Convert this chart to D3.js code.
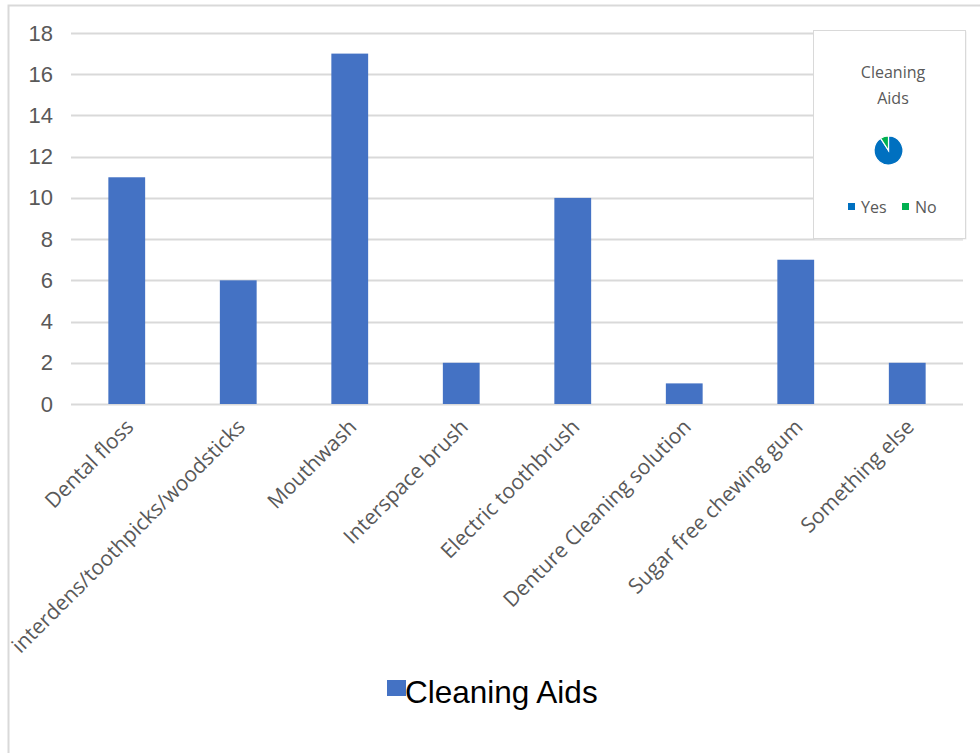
<!DOCTYPE html>
<html><head><meta charset="utf-8">
<script src="https://cdn.jsdelivr.net/npm/d3@7"></script>
<style>body{margin:0;background:#fff;}svg{display:block;}</style>
</head><body>
<script>
const categories = ["Dental floss","interdens/toothpicks/woodsticks","Mouthwash","Interspace brush","Electric toothbrush","Denture Cleaning solution","Sugar free chewing gum","Something else"];
const values = [11, 6, 17, 2, 10, 1, 7, 2];
const yTicks = [0, 2, 4, 6, 8, 10, 12, 14, 16, 18];
const seriesName = "Cleaning Aids";
const pieLabels = ["Yes", "No"];
const pieValues = [10, 1];

(function () {
const W = 980, H = 753;
const svg = d3.select("body").append("svg").attr("width", W).attr("height", H);

svg.append("rect").attr("x", 8.5).attr("y", 5.5).attr("width", 1000).attr("height", 800)
  .attr("fill", "#fff").attr("stroke", "#d9d9d9").attr("stroke-width", 2);

const pLeft = 71, pRight = 963, pTop = 33, pBottom = 404;
const x = d3.scaleBand().domain(categories).range([pLeft, pRight]).padding(0);
const y = d3.scaleLinear().domain([0, 18]).range([pBottom, pTop]);

const grid = svg.append("g");
grid.selectAll("line").data(yTicks).join("line")
  .attr("x1", pLeft).attr("x2", pRight)
  .attr("y1", d => Math.round(y(d)) + 0.5).attr("y2", d => Math.round(y(d)) + 0.5)
  .attr("stroke", "#d9d9d9").attr("stroke-width", 2);

const yAxis = d3.axisLeft(y).tickValues(yTicks).tickSize(0).tickPadding(0);
const ya = svg.append("g").attr("transform", `translate(53,0)`).call(yAxis);
ya.select(".domain").remove();
ya.selectAll("text").attr("font-family", "Liberation Sans, Arial, sans-serif")
  .attr("font-size", 22).attr("fill", "#595959");

const bw = x.bandwidth() * 0.33;
svg.append("g").selectAll("rect").data(values).join("rect")
  .attr("x", (d, i) => x(categories[i]) + x.bandwidth() / 2 - bw / 2)
  .attr("width", bw)
  .attr("y", d => y(d))
  .attr("height", d => y(0) - y(d))
  .attr("fill", "#4472C4");

svg.append("g").selectAll("text").data(categories).join("text")
  .attr("transform", d => `translate(${x(d) + x.bandwidth() / 2 + 3},${423}) rotate(-45)`)
  .attr("text-anchor", "end")
  .attr("dy", "0.35em")
  .attr("font-family", "Open Sans, sans-serif")
  .attr("font-size", 21)
  .attr("fill", "#595959")
  .text(d => d);

// legend
const lg = svg.append("g");
lg.append("rect").attr("x", 387).attr("y", 680).attr("width", 19).attr("height", 16).attr("fill", "#4472C4");
lg.append("text").attr("x", 405).attr("y", 703)
  .attr("font-family", "Liberation Sans, Arial, sans-serif").attr("font-size", 31.5).attr("fill", "#000")
  .text(seriesName);

// inset pie chart
const ix = 813, iy = 30, iw = 152, ih = 208;
svg.append("rect").attr("x", ix + 1.5).attr("y", iy + 1.5).attr("width", iw).attr("height", ih).attr("fill", "#ececec");
svg.append("rect").attr("x", ix + 0.5).attr("y", iy + 0.5).attr("width", iw).attr("height", ih)
  .attr("fill", "#fff").attr("stroke", "#d9d9d9").attr("stroke-width", 1);
const tt = svg.append("text").attr("text-anchor", "middle").attr("font-family", "Open Sans, sans-serif")
  .attr("font-size", 16).attr("fill", "#595959");
tt.append("tspan").attr("x", 893).attr("y", 78).text("Cleaning");
tt.append("tspan").attr("x", 893).attr("y", 104).text("Aids");

const pieColors = d3.scaleOrdinal().domain(pieLabels).range(["#0070C0", "#00B050"]);
const pie = d3.pie().sort(null)(pieValues);
const arc = d3.arc().innerRadius(0).outerRadius(14.5);
svg.append("g").attr("transform", "translate(888.5,150.5)")
  .selectAll("path").data(pie).join("path")
  .attr("d", arc).attr("fill", (d, i) => pieColors(pieLabels[i]))
  .attr("stroke", "#fff").attr("stroke-width", 1.2);

const pl = svg.append("g");
const legX = [848, 902];
pieLabels.forEach((l, i) => {
  pl.append("rect").attr("x", legX[i]).attr("y", 203).attr("width", 7).attr("height", 7).attr("fill", pieColors(l));
  pl.append("text").attr("x", legX[i] + 13).attr("y", 213)
    .attr("font-family", "Open Sans, sans-serif").attr("font-size", 16).attr("fill", "#595959").text(l);
});
})();
</script>
</body></html>
